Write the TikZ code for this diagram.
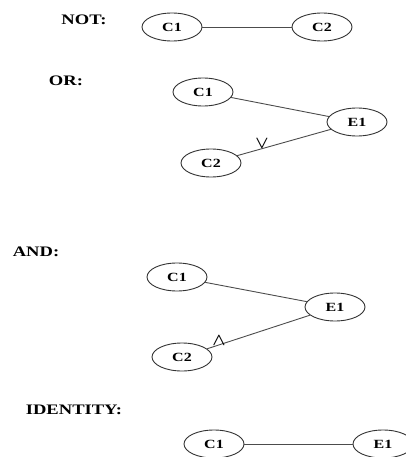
\documentclass[tikz,border=0pt]{standalone}
\usepackage{amsmath}
\usepackage{fontspec}
\setmainfont{Liberation Serif}
\usetikzlibrary{shapes.geometric}
\tikzset{
  ent/.style={ellipse, draw=black!80, line width=0.9pt, minimum width=60pt, minimum height=28pt, inner sep=0pt, font=\fontsize{12.5}{12.5}\selectfont\bfseries},
  lbl/.style={font=\fontsize{14.5}{14.5}\selectfont\bfseries},
  conn/.style={draw=black!70, line width=0.9pt},
  sym/.style={font=\fontsize{17}{17}\selectfont}
}
\newcommand{\widetxt}[1]{\scalebox{1.28}[1]{#1}}
\begin{document}
\begin{tikzpicture}[x=1pt,y=-1pt]
\useasboundingbox (0,0) rectangle (406,457);
% NOT
\node[lbl] (lnot) at (84,20) {\widetxt{NOT:}};
\node[ent] (n1) at (172,27) {\widetxt{C1}};
\node[ent] (n2) at (322,27) {\widetxt{C2}};
\draw[conn] (n1) -- (n2);
% OR
\node[lbl] (lor) at (66,81) {\widetxt{OR:}};
\node[ent] (o1) at (203,92) {\widetxt{C1}};
\node[ent] (oe) at (357,122) {\widetxt{E1}};
\node[ent] (o2) at (211,163) {\widetxt{C2}};
\draw[conn] (o1) -- (oe);
\draw[conn] (o2) -- (oe);
\node[sym] (orv) at (262,144) {$\boldsymbol{\vee}$};
% AND
\node[lbl] (land) at (36,252) {\widetxt{AND:}};
\node[ent] (a1) at (177,277) {\widetxt{C1}};
\node[ent] (ae) at (335,307) {\widetxt{E1}};
\node[ent] (a2) at (182,357) {\widetxt{C2}};
\draw[conn] (a1) -- (ae);
\draw[conn] (a2) -- (ae);
\node[sym] (andw) at (219,341) {$\boldsymbol{\wedge}$};
% IDENTITY
\node[lbl] (lid) at (74,410) {\widetxt{IDENTITY:}};
\node[ent] (i1) at (214,444) {\widetxt{C1}};
\node[ent] (ie) at (383,444) {\widetxt{E1}};
\draw[conn] (i1) -- (ie);
\end{tikzpicture}
\end{document}
